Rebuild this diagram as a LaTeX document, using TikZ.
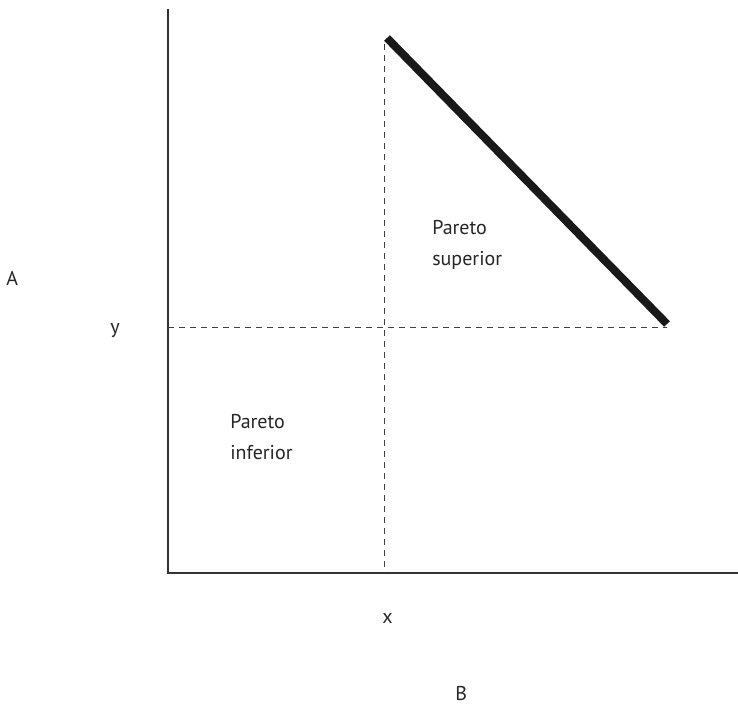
\documentclass[tikz,border=0pt]{standalone}
\usepackage{fontspec}
\setmainfont{PT Sans}
\begin{document}
\begin{tikzpicture}[x=0.75pt,y=-0.75pt,
  axis/.style={draw=black!80,line width=1.1pt},
  guide/.style={draw=black!75,line width=0.75pt,dash pattern=on 4.5pt off 3.75pt},
  frontier/.style={draw=black!90,line width=6pt,line cap=butt},
  lbl/.style={anchor=base west,inner sep=0pt,font=\fontsize{15}{23}\selectfont,text=black!85}]
\useasboundingbox (0,0) rectangle (738,705);
\coordinate (top) at (168,9);
\coordinate (origin) at (168,573);
\coordinate (right) at (738,573);
\coordinate (dvtop) at (384,44);
\coordinate (dvbot) at (384,573);
\coordinate (dhl) at (168,328);
\coordinate (dhr) at (667,328);
\coordinate (fa) at (387,38);
\coordinate (fb) at (667,324);
\draw[axis] (top) -- (origin) -- (right);
\draw[guide] (dvtop) -- (dvbot);
\draw[guide] (dhl) -- (dhr);
\draw[frontier] (fa) -- (fb);
\node[lbl] (ps1) at (432,235) {Pareto};
\node[lbl] (ps2) at (432,266) {superior};
\node[lbl] (pi1) at (230,428) {Pareto};
\node[lbl] (pi2) at (230,459) {inferior};
\node[lbl] (la) at (6,286) {A};
\node[lbl] (ly) at (110,334) {y};
\node[lbl] (lx) at (382,623) {x};
\node[lbl] (lb) at (455,700) {B};
\end{tikzpicture}
\end{document}
